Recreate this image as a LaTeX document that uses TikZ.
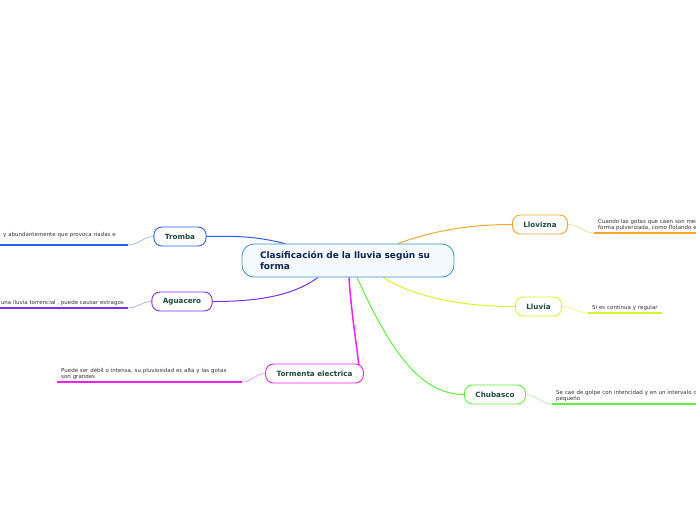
\documentclass[tikz,border=0pt]{standalone}
\usepackage{fontspec}
\setmainfont{DejaVu Sans}
\usetikzlibrary{positioning, backgrounds}

\definecolor{rootline}{HTML}{3A8FD6}
\definecolor{rootfill}{HTML}{F5FAFE}
\definecolor{roottext}{HTML}{0E2452}
\definecolor{topictext}{HTML}{1C4A3C}
\definecolor{leaftext}{HTML}{333333}
\definecolor{trombac}{HTML}{2A5CF2}
\definecolor{aguacc}{HTML}{7B2DF2}
\definecolor{tormc}{HTML}{F020F0}
\definecolor{lovc}{HTML}{F8A52B}
\definecolor{lluvc}{HTML}{D9F22B}
\definecolor{chubc}{HTML}{5CF03C}

\begin{document}
\begin{tikzpicture}[
    x=1pt, y=-1pt,
    rootbox/.style = {rectangle, rounded corners=12pt, draw=rootline, fill=rootfill,
                      line width=0.8pt, text width=176pt, inner xsep=18pt,
                      minimum height=33pt, align=left, text=roottext,
                      font=\fontsize{9}{11}\selectfont\bfseries},
    topic/.style   = {rectangle, rounded corners=8pt, draw, fill=white,
                      line width=0.9pt, minimum height=19pt, inner xsep=11pt,
                      text=topictext, font=\fontsize{7.2}{8.5}\selectfont\bfseries},
    leaf/.style    = {inner xsep=4pt, inner ysep=2pt, align=left, text=leaftext,
                      font=\fontsize{5.5}{6.4}\selectfont},
    link/.style    = {line width=1pt},
    uline/.style   = {line width=1.6pt},
    twig/.style    = {line width=0.6pt}
]
\path[use as bounding box] (0,0) rectangle (696,520);
\clip (0,0) rectangle (696,520);

%% ---- ROOT ----
\node[rootbox] (root) at (348,260.5) {Clasificación de la lluvia según su\\forma};

%% ---- LEFT BRANCHES ----
\node[topic, draw=trombac] (tromba) at (180,236.5) {Tromba};
\node[topic, draw=aguacc]  (aguac)  at (182,301.5) {Aguacero};
\node[topic, draw=tormc]   (torm)   at (314.5,373.5) {Tormenta electrica};

%% ---- RIGHT BRANCHES ----
\node[topic, draw=lovc]    (lovizna) at (540,224.5) {Llovizna};
\node[topic, draw=lluvc]   (lluvia)  at (538.5,306.5) {Lluvia};
\node[topic, draw=chubc]   (chubas)  at (495,394.5) {Chubasco};

%% ---- LEAVES ----
\node[leaf, text width=121pt, anchor=south west] (tromleaf) at (-1,245)
    {y abundantemente que provoca riadas e\\\mbox{}};
\node[leaf, anchor=south east] (aguleaf) at (128,308)
    {una lluvia torrencial , puede causar estragos};
\node[leaf, text width=177pt, anchor=south west] (tormleaf) at (57,382)
    {Puede ser débil o intensa, su pluviosidad es alta y las gotas\\son grandes};
\node[leaf, text width=120pt, anchor=south west] (lovleaf) at (594,233)
    {Cuando las gotas que caen son mer\\forma pulverizada, como flotando e};
\node[leaf, text width=66pt, anchor=south west] (lluleaf) at (588,313)
    {Si es continua y regular};
\node[leaf, text width=160pt, anchor=south west] (chubleaf) at (552,404)
    {Se cae de golpe con intencidad y en un intervalo d\\pequeño};

%% =============================================
%% CONNECTORS (behind the boxes)
%% =============================================
\begin{scope}[on background layer]
\clip (0,0) rectangle (696,520);
\draw[link, trombac] ([xshift=-63pt]root.north)
    .. controls (255,236) and (235,236) .. (tromba.east);
\draw[link, aguacc] ([xshift=-30pt]root.south)
    .. controls (290,298) and (250,301.5) .. (aguac.east);
\draw[link, tormc, line width=1.5pt] ([xshift=1pt]root.south)
    .. controls (351,310) and (356,340) .. ([xshift=-5pt,yshift=-2pt]torm.north east);
\draw[link, lovc] ([xshift=50pt]root.north)
    .. controls (440,228) and (480,224.5) .. (lovizna.west);
\draw[link, lluvc] ([xshift=35pt]root.south)
    .. controls (420,300) and (470,306.5) .. (lluvia.west);
\draw[link, chubc] ([xshift=9pt]root.south)
    .. controls (390,350) and (420,394.5) .. (chubas.west);

%% leaf twigs + underlines
\draw[twig, trombac!55] (tromba.west) to[out=180,in=0] (tromleaf.south east);
\draw[uline, trombac] (tromleaf.south west) -- (tromleaf.south east);
\draw[twig, aguacc!55] (aguac.west) to[out=180,in=0] (aguleaf.south east);
\draw[uline, aguacc] ([xshift=-10pt]aguleaf.south west) -- (aguleaf.south east);
\draw[twig, tormc!55] (torm.west) to[out=180,in=0] (tormleaf.south east);
\draw[uline, tormc] (tormleaf.south west) -- (tormleaf.south east);
\draw[twig, lovc!55] (lovizna.east) to[out=0,in=180] (lovleaf.south west);
\draw[uline, lovc] (lovleaf.south west) -- (lovleaf.south east);
\draw[twig, lluvc!70] (lluvia.east) to[out=0,in=180] (lluleaf.south west);
\draw[uline, lluvc] (lluleaf.south west) -- (lluleaf.south east);
\draw[twig, chubc!55] (chubas.east) to[out=0,in=180] (chubleaf.south west);
\draw[uline, chubc] (chubleaf.south west) -- (chubleaf.south east);
\end{scope}

\end{tikzpicture}
\end{document}
